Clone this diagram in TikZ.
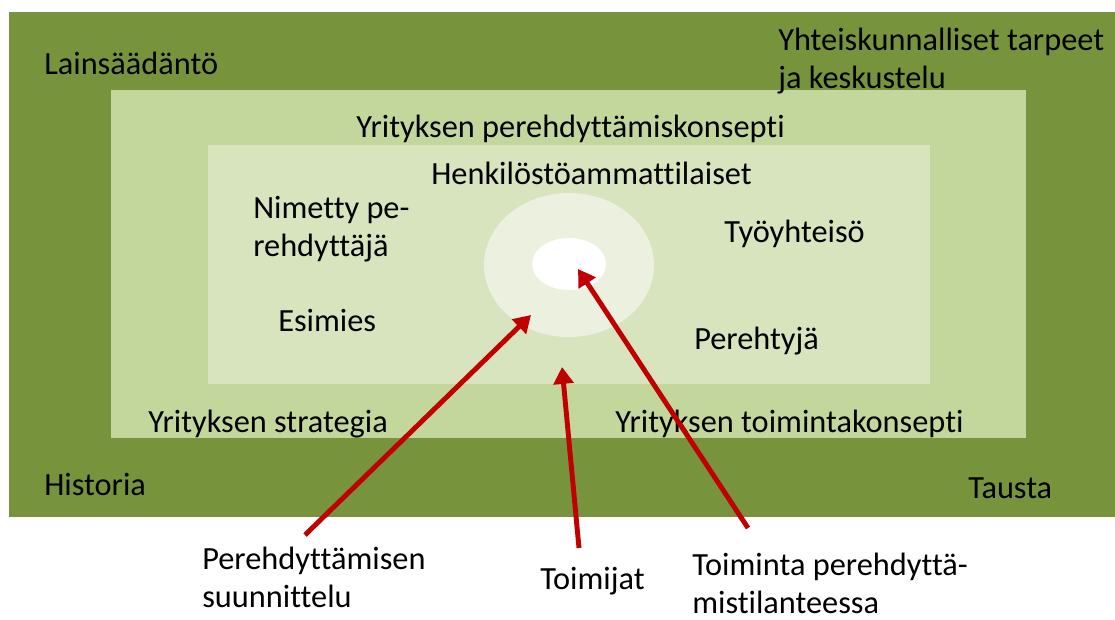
\documentclass[tikz,border=0pt]{standalone}
\usepackage{fontspec}
\setmainfont{Carlito}[Ligatures=NoCommon]
\usetikzlibrary{arrows.meta}
\definecolor{taustagreen}{HTML}{77933C}
\definecolor{konseptigreen}{HTML}{C3D69B}
\definecolor{toimijagreen}{HTML}{D7E4BD}
\definecolor{rengasgreen}{HTML}{EBF1DE}
\definecolor{nuolired}{HTML}{C00000}

\begin{document}
\begin{tikzpicture}[x=0.025cm,y=-0.025cm,
  every node/.style={anchor=base west,inner sep=0pt,align=left,
    font=\fontsize{23}{27}\selectfont},
  nuoli/.style={draw=nuolired,line width=3.5pt,
    -{Triangle[width=14pt,length=12pt]}}]
\useasboundingbox (0,0) rectangle (1115,619);
\fill[taustagreen]   (9,12)   rectangle (1115,517);
\fill[konseptigreen] (111,90) rectangle (1026,438);
\fill[toimijagreen]  (208,145) rectangle (930,384);
\fill[rengasgreen] (569,265) ellipse [x radius=85,y radius=72];
\fill[white]       (569,264) ellipse [x radius=37,y radius=26];

% two-line nodes sit on the baseline of their last line
\node(laki)     at (44,74)   {Lainsäädäntö};
\node(tarpeet)  at (778,88)  {Yhteiskunnalliset tarpeet\\ja keskustelu};
\node(konsepti) at (356,137) {Yrityksen perehdyttämiskonsepti};
\node(hr)       at (431,184) {Henkilöstöammattilaiset};
\node(nimetty)  at (253,256) {Nimetty pe-\\rehdyttäjä};
\node(yhteiso)  at (724,242) {Työyhteisö};
\node(esimies)  at (278,331) {Esimies};
\node(perehtyja) at (694,349) {Perehtyjä};
\node(strategia) at (148,432) {Yrityksen strategia};
\node(toiminta)  at (615,432) {Yrityksen toimintakonsepti};
\node(historia)  at (44,495)  {Historia};
\node(tausta)    at (968,498) {Tausta};
\node(suunnittelu) at (202,607) {Perehdyttämisen\\suunnittelu};
\node(toimijat)    at (540,589) {Toimijat};
\node(tilanne)     at (692,613) {Toiminta perehdyttä-\\mistilanteessa};

\coordinate(rengas) at (531,315);
\coordinate(kehys)  at (562,367);
\coordinate(ydin)   at (578,269);
\coordinate(a1) at (305,535);
\coordinate(a2) at (579,548);
\coordinate(a3) at (748,528);
\draw[nuoli] (a1) -- (rengas);
\draw[nuoli] (a2) -- (kehys);
\draw[nuoli] (a3) -- (ydin);
\end{tikzpicture}
\end{document}
